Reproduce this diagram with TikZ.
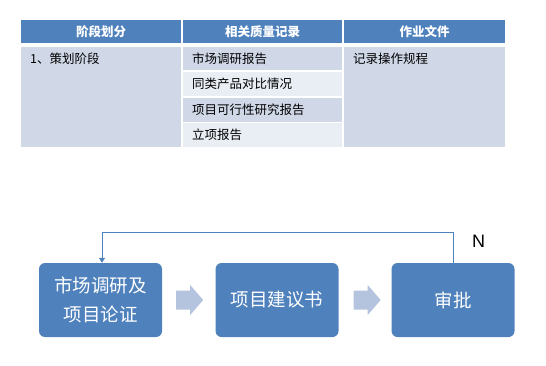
\documentclass[tikz,border=0pt]{standalone}
\usepackage{fontspec}
\setmainfont{Liberation Sans}
\newfontfamily\cjk{Noto Sans CJK SC}
\usetikzlibrary{calc,arrows.meta}
\definecolor{hdblue}{HTML}{4F81BD}
\definecolor{rowdark}{HTML}{D0D8E8}
\definecolor{rowlight}{HTML}{E9EDF4}
\definecolor{arrowgray}{HTML}{B4C4DE}
\tikzset{
  hdcell/.style={anchor=north west, inner sep=0pt, minimum height=23pt, fill=hdblue,
    text=white, font=\cjk\bfseries\fontsize{12.5}{15}\selectfont},
  bodycell/.style={anchor=north west, inner sep=0pt, minimum height=100pt, fill=rowdark},
  rowcell/.style={anchor=north west, inner ysep=0pt, inner xsep=9pt, text width=141pt,
    align=left, font=\cjk\fontsize{12.5}{15}\selectfont},
  celltext/.style={anchor=west, inner sep=0pt, font=\cjk\fontsize{12.5}{15}\selectfont},
  stepbox/.style={rounded corners=6pt, fill=hdblue, minimum width=123pt, minimum height=74pt,
    text=white, align=center, font=\cjk\fontsize{18.5}{29}\selectfont},
  fbline/.style={hdblue, line width=0.8pt}
}
\begin{document}
\begin{tikzpicture}[x=1pt,y=-1pt]
\useasboundingbox (0,0) rectangle (546,365);
% table header
\node[hdcell, minimum width=160pt] (h1) at (21,20) {阶段划分};
\node[hdcell, minimum width=159pt] (h2) at (183,20) {相关质量记录};
\node[hdcell, minimum width=161pt] (h3) at (344,20) {作业文件};
% table body
\node[bodycell, minimum width=160pt] (c1) at (21,47) {};
\node[bodycell, minimum width=161pt] (c3) at (344,47) {};
\node[celltext] (t1) at (30,59) {1、策划阶段};
\node[celltext] (t3) at (353,59) {记录操作规程};
\node[rowcell, fill=rowdark, minimum height=23pt] (r1) at (183,47) {市场调研报告};
\node[rowcell, fill=rowlight, minimum height=24.5pt] (r2) at (183,71.5) {同类产品对比情况};
\node[rowcell, fill=rowdark, minimum height=24pt] (r3) at (183,97.5) {项目可行性研究报告};
\node[rowcell, fill=rowlight, minimum height=24pt] (r4) at (183,123) {立项报告};
% flow
\node[stepbox] (b1) at (100.5,300) {市场调研及\\项目论证};
\node[stepbox] (b2) at (277,300) {项目建议书};
\node[stepbox] (b3) at (453,300) {审批};
\fill[arrowgray] ($(b1.east)+(14,-9.5)$) -- ++(14,0) -- ++(0,-5.5) -- ++(13,15)
  -- ++(-13,15) -- ++(0,-5.5) -- ++(-14,0) -- cycle;
\fill[arrowgray] ($(b2.east)+(15,-9.5)$) -- ++(14,0) -- ++(0,-5.5) -- ++(13,15)
  -- ++(-13,15) -- ++(0,-5.5) -- ++(-14,0) -- cycle;
\draw[fbline, -{Triangle[width=6pt,length=5pt]}] (b3.north) -- ++(0,-30) -| ($(b1.north)+(1.5,0)$);
\node[font=\fontsize{18}{20}\selectfont] (n) at (478.5,241.5) {N};
\end{tikzpicture}
\end{document}
